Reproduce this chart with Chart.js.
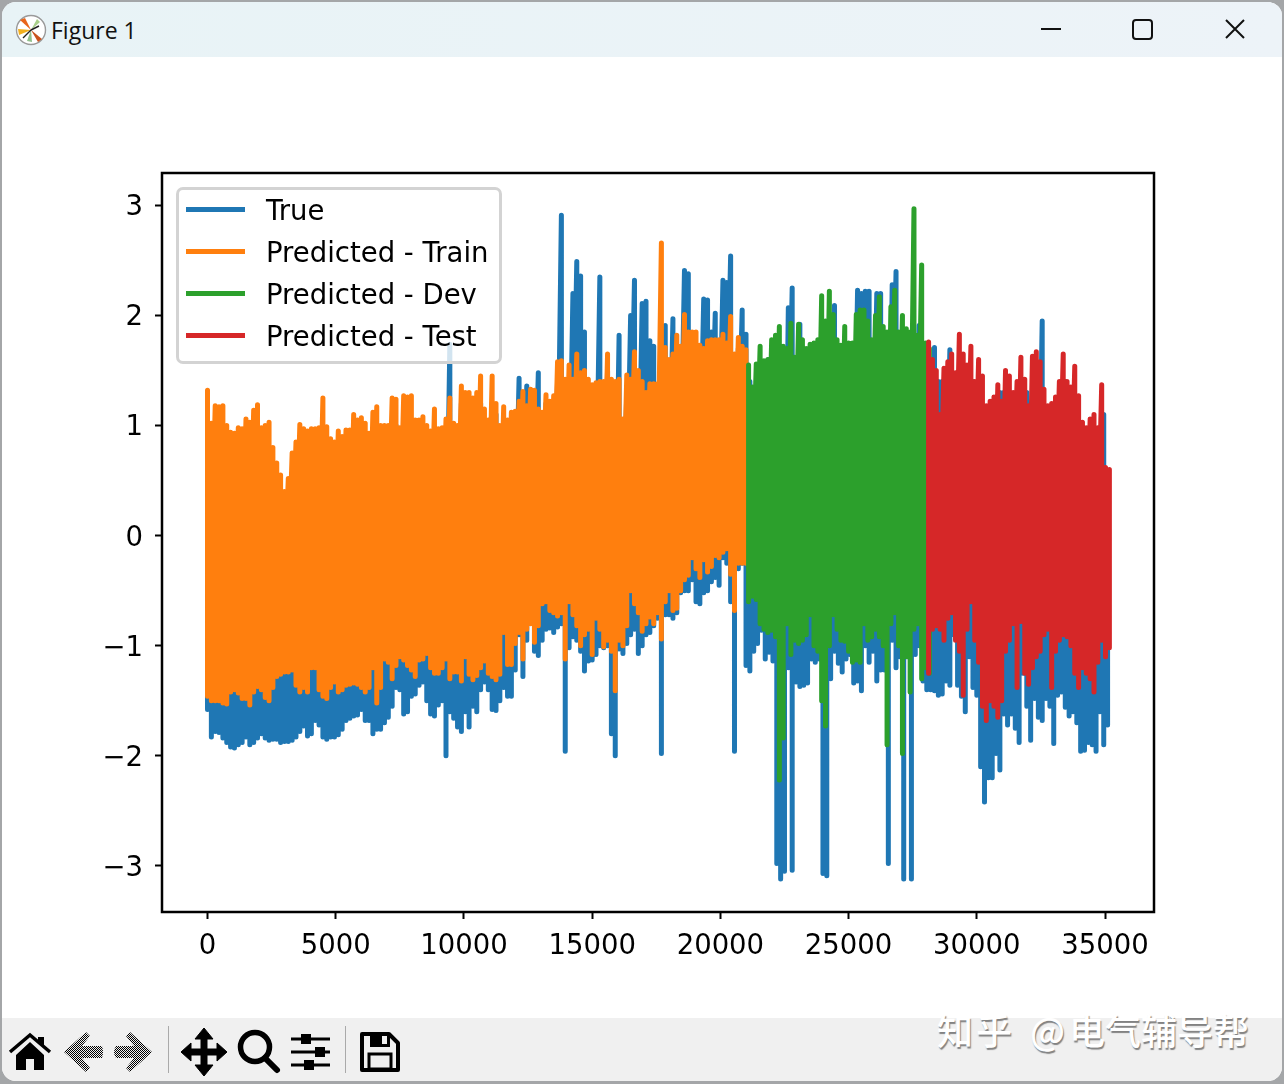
<!DOCTYPE html>
<html>
<head>
<meta charset="utf-8">
<title>Figure 1</title>
<script src="https://cdn.jsdelivr.net/npm/chart.js@4/dist/chart.umd.min.js"></script>
<style>
  html, body { margin: 0; padding: 0; width: 1284px; height: 1084px; overflow: hidden; background: #a4a6a8; }
  #win { position: absolute; left: 2px; top: 2px; width: 1280px; height: 1079px; background: #fff; border-radius: 14px; overflow: hidden; }
  #titlebar { position: absolute; left: 0; top: 0; width: 1280px; height: 55px; background: linear-gradient(90deg, #e8f3f6, #edf3f8); }
  #titletext { position: absolute; left: 49px; top: 12px; font: 23px "Open Sans", "Noto Sans", sans-serif; color: #111; }
  #toolbar { position: absolute; left: 0; top: 1016px; width: 1280px; height: 63px; background: #f0f0f0; }
  #plot { position: absolute; left: 0; top: 58px; width: 1284px; height: 960px; }
  #legend { position: absolute; left: 176px; top: 187px; width: 320px; height: 171px; padding: 0; background: rgba(255,255,255,0.8); border: 3px solid #d3d3d3; border-radius: 7px; font: 27.5px "DejaVu Sans", sans-serif; color: #000; }
  #legend .row { position: absolute; left: 0; height: 42px; width: 100%; }
  #legend .swatch { position: absolute; left: 7px; top: 17px; width: 59px; height: 5px; }
  #legend .name { position: absolute; left: 87px; top: 3px; white-space: nowrap; line-height: 34px; }
  .mark { position: absolute; top: 1001px; font: 500 36px "Noto Sans CJK SC", sans-serif; color: #fff; white-space: pre; text-shadow: 1px 2px 1px rgba(70,70,70,0.65); }
  svg { position: absolute; }
</style>
</head>
<body>
<div id="win">
  <div id="titlebar">
    <svg style="left:13px;top:12px" width="32" height="32" viewBox="0 0 32 32">
      <circle cx="16" cy="16" r="14.5" fill="#fff" stroke="#9a9a9a" stroke-width="1.4"/>
      <path d="M16 16 L5 6 L10 4 Z" fill="#e8641b"/>
      <path d="M16 16 L3 15 L4 21 Z" fill="#f2b01e"/>
      <path d="M16 16 L27 25 L23 28 Z" fill="#c9521c"/>
      <path d="M16 16 L22 5 L25 8 Z" fill="#a9cf8a"/>
      <path d="M16 16 L12 27 L17 28 Z" fill="#8fc08a"/>
      <path d="M16 16 L8 24 M16 16 L24 12" stroke="#222" stroke-width="1.4"/>
    </svg>
    <div id="titletext">Figure 1</div>
    <svg style="left:1030px;top:10px" width="240" height="36" viewBox="0 0 240 36" fill="none" stroke="#111" stroke-width="2">
      <path d="M9 17 H29"/>
      <rect x="101" y="8" width="19" height="19" rx="3"/>
      <path d="M194 8 L212 26 M212 8 L194 26"/>
    </svg>
  </div>
  <div id="toolbar">
    <svg style="left:0;top:0" width="420" height="63" viewBox="0 0 420 63">
      <defs>
        <pattern id="dither" width="2" height="2" patternUnits="userSpaceOnUse">
          <rect width="1" height="1" fill="#000"/><rect x="1" y="1" width="1" height="1" fill="#000"/>
        </pattern>
      </defs>
      <!-- home -->
      <path d="M8 34 L28 17 L48 34" fill="none" stroke="#000" stroke-width="3.5"/>
      <path d="M36 19 h6 v9 l-6 -5 z" fill="#000"/>
      <path d="M14 37 L28 24 L42 37 V52 H32 V41 H24 V52 H14 Z" fill="#000"/>
      <!-- back / forward, disabled -->
      <path d="M62 34 L84 14 L88 18 L80 28 H100 Q102 34 100 40 H80 L88 50 L84 54 Z" fill="url(#dither)"/>
      <path d="M150 34 L128 14 L124 18 L132 28 H114 Q110 34 114 40 H132 L124 50 L128 54 Z" fill="url(#dither)"/>
      <rect x="166" y="8" width="1" height="47" fill="#aaa"/>
      <!-- pan -->
      <path d="M202 10 L211 21 H205 V31 H215 V25 L225 34 L215 43 V37 H205 V47 H211 L202 58 L193 47 H199 V37 H189 V43 L179 34 L189 25 V31 H199 V21 H193 Z" fill="#000" stroke="#000" stroke-width="1" stroke-linejoin="round"/>
      <!-- zoom -->
      <circle cx="253" cy="29" r="14.5" fill="none" stroke="#000" stroke-width="5.5"/>
      <path d="M263 40 L275 52" stroke="#000" stroke-width="6" stroke-linecap="round"/>
      <!-- subplots -->
      <path d="M289 21 H328 M289 34 H328 M289 47 H328" stroke="#000" stroke-width="3"/>
      <rect x="299" y="16" width="10" height="10" fill="#000"/>
      <rect x="313" y="29" width="10" height="10" fill="#000"/>
      <rect x="302" y="42" width="10" height="10" fill="#000"/>
      <rect x="343" y="8" width="1" height="47" fill="#aaa"/>
      <!-- save -->
      <path d="M360 16 H387 L396 25 V52 H360 Z" fill="none" stroke="#000" stroke-width="4" stroke-linejoin="round"/>
      <rect x="368" y="16" width="20" height="13" fill="#000"/>
      <rect x="380" y="18" width="5" height="8" fill="#f0f0f0"/>
      <rect x="367" y="36" width="22" height="15" fill="none" stroke="#000" stroke-width="3"/>
    </svg>
  </div>
  <div class="mark" style="left:935px;letter-spacing:3px">知乎</div>
  <div class="mark" style="left:1028px">@</div>
  <div class="mark" style="left:1067px">电气辅导帮</div>
</div>
<div id="plot"><canvas id="figure" width="1284" height="960"></canvas></div>
<div id="legend"></div>

<script>
const seriesNames = ['True', 'Predicted - Train', 'Predicted - Dev', 'Predicted - Test'];
const seriesColors = ['#1f77b4', '#ff7f0e', '#2ca02c', '#d62728'];
const xTicks = [0, 5000, 10000, 15000, 20000, 25000, 30000, 35000];
const yTicks = [-3, -2, -1, 0, 1, 2, 3];

// each signal is far too dense to plot sample by sample, so it is kept as
// high/low pairs per bin of 150 samples
const binSize = 150;
const trueStart = 0;
const trainStart = 0;
const devStart = 21100;
const testStart = 28120;

const trueHigh = [
  .52,.6,.7,.7,.8,.8,.7,.7,.8,.8,
  .8,.8,.9,.9,.8,.8,.7,.6,.5,.4,
  .3,.4,.5,.7,.8,.8,.8,.8,.8,.8,
  .9,.8,.8,.8,.8,.8,.8,.8,.9,.9,
  .9,.8,.8,.9,.9,.9,.9,.9,1.0,1.0,
  .9,1.0,1.0,1.0,.9,.9,.9,.9,.9,.9,
  .9,.9,.9,1.74,.9,.9,1.2,1.1,1.1,1.1,
  1.1,1.2,1.0,1.0,1.2,1.1,.9,1.0,1.0,1.0,
  1.1,1.43,1.2,1.36,1.30,1.30,1.48,1.0,1.2,1.1,
  1.2,1.4,2.91,1.3,1.4,2.20,2.49,2.36,1.85,1.3,
  1.3,1.3,2.35,1.3,1.5,1.3,1.3,1.82,1.0,1.3,
  2.0,2.32,1.4,2.11,2.13,1.77,1.72,1.3,1.5,1.91,
  1.5,1.97,1.6,1.6,2.41,2.38,1.7,1.7,1.6,2.15,
  2.14,1.85,2.02,1.7,2.32,2.30,2.54,1.6,1.7,2.05,
  1.83,1.4,1.3,1.5,1.5,1.5,1.6,1.7,1.7,1.6,
  1.6,2.07,2.25,1.6,1.92,1.6,1.6,1.6,1.6,1.7,
  1.9,1.9,1.8,2.09,1.6,1.6,1.6,1.6,1.7,2.23,
  2.20,2.22,2.22,1.7,2.20,2.20,1.7,1.8,2.28,2.40,
  1.7,1.7,1.7,1.7,1.7,1.91,1.7,1.4,1.4,1.71,
  1.4,1.4,1.4,1.69,1.4,1.4,1.4,1.5,1.3,1.4,
  1.3,1.2,1.1,1.1,1.1,1.2,1.3,1.3,1.3,1.2,
  1.2,1.3,1.4,1.3,1.1,1.4,1.4,1.95,1.1,1.1,
  1.1,1.1,1.2,1.4,1.2,1.3,1.1,1.0,.9,.9,
  .9,.9,.9,1.1,.5
];
const trueLow = [
  -1.58,-1.83,-1.78,-1.79,-1.84,-1.88,-1.92,-1.93,-1.90,-1.88,
  -1.83,-1.90,-1.88,-1.84,-1.80,-1.84,-1.86,-1.85,-1.85,-1.88,
  -1.87,-1.87,-1.86,-1.83,-1.78,-1.73,-1.82,-1.80,-1.68,-1.72,
  -1.83,-1.85,-1.83,-1.83,-1.81,-1.76,-1.68,-1.66,-1.64,-1.63,
  -1.58,-1.68,-1.68,-1.80,-1.76,-1.76,-1.70,-1.65,-1.55,-1.38,
  -1.40,-1.62,-1.60,-1.46,-1.44,-1.36,-1.33,-1.50,-1.62,-1.64,
  -1.54,-1.50,-2.00,-1.60,-1.66,-1.74,-1.78,-1.60,-1.74,-1.55,
  -1.60,-1.40,-1.33,-1.40,-1.58,-1.59,-1.50,-1.38,-1.46,-1.46,
  -1.22,-.90,-1.28,-.95,-.78,-1.05,-1.09,-.95,-.85,-.84,
  -.88,-.83,-.80,-1.96,-1.02,-.92,-.95,-1.05,-1.23,-1.14,
  -1.13,-1.08,-1.00,-1.02,-1.0,-1.80,-2.0,-1.03,-1.07,-.98,
  -.90,-.85,-1.07,-1.0,-.90,-.88,-.82,-.75,-1.98,-.72,
  -.72,-.75,-.70,-.52,-.50,-.50,-.40,-.60,-.62,-.52,
  -.50,-.42,-.38,-.45,-.20,-.25,-.60,-1.96,-.30,-.25,
  -1.18,-1.23,-1.05,-.98,-.86,-1.12,-1.06,-1.14,-2.98,-3.12,
  -3.05,-1.20,-3.04,-1.33,-1.37,-1.36,-1.34,-1.12,-1.15,-1.12,
  -3.07,-3.09,-1.30,-1.05,-1.16,-1.24,-1.12,-1.08,-1.34,-1.32,
  -1.41,-1.0,-1.15,-1.05,-1.32,-1.22,-1.22,-2.98,-.95,-1.20,
  -1.10,-3.12,-1.10,-3.12,-1.08,-1.0,-1.32,-1.40,-1.40,-1.41,
  -1.45,-1.44,-1.32,-1.36,-.90,-1.36,-1.46,-1.60,-1.10,-1.38,
  -1.45,-2.1,-2.42,-2.20,-2.2,-1.98,-2.13,-1.62,-1.72,-1.62,
  -1.75,-1.88,-1.25,-1.55,-1.86,-1.48,-1.65,-1.68,-1.48,-1.55,
  -1.89,-1.45,-1.42,-1.56,-1.64,-1.60,-1.70,-1.96,-1.95,-1.88,
  -1.90,-1.96,-1.60,-1.90,-1.72
];

const trainHigh = [
  1.32,1.02,1.18,1.17,1.18,1.00,.94,.93,.98,.97,
  1.06,1.03,1.14,1.19,.98,1.0,1.03,.80,.66,.55,
  .40,.52,.75,.85,1.01,.97,.95,.97,.97,.98,
  1.25,.99,.88,.85,.95,.90,.96,.96,1.10,1.05,
  1.07,1.02,.93,1.12,1.17,1.00,1.00,1.0,1.25,1.24,
  .98,1.27,1.26,1.27,1.05,1.05,1.08,1.0,.95,1.15,
  .97,.98,1.06,1.25,1.02,1.0,1.36,1.30,1.30,1.25,
  1.30,1.45,1.15,1.05,1.45,1.2,1.0,1.17,1.05,1.12,
  1.13,1.22,1.31,1.18,1.33,1.32,1.15,1.12,1.28,1.22,
  1.27,1.58,1.59,1.42,1.55,1.42,1.65,1.48,1.50,1.42,
  1.37,1.39,1.40,1.40,1.65,1.42,1.40,1.42,1.06,1.46,
  1.42,1.67,1.50,1.40,1.30,1.38,1.38,1.38,2.66,1.71,
  1.60,1.65,1.82,1.72,2.01,1.85,1.85,1.85,1.73,1.70,
  1.77,1.78,1.78,1.78,1.83,1.75,1.99,1.65,1.80,1.72,1.69
];
const trainLow = [
  -1.46,-1.50,-1.50,-1.50,-1.52,-1.53,-1.42,-1.40,-1.43,-1.48,
  -1.48,-1.54,-1.42,-1.37,-1.40,-1.47,-1.50,-1.38,-1.28,-1.26,
  -1.24,-1.24,-1.22,-1.36,-1.42,-1.38,-1.42,-1.20,-1.20,-1.40,
  -1.46,-1.48,-1.38,-1.33,-1.42,-1.40,-1.36,-1.35,-1.34,-1.35,
  -1.38,-1.42,-1.38,-1.20,-1.52,-1.38,-1.12,-1.15,-1.30,-1.18,
  -1.10,-1.13,-1.18,-1.22,-1.28,-1.13,-1.12,-1.07,-1.20,-1.25,
  -1.25,-1.20,-1.12,-1.30,-1.24,-1.24,-1.32,-1.10,-1.26,-1.31,
  -1.27,-1.20,-1.14,-1.25,-1.28,-1.31,-1.26,-.88,-1.17,-1.17,
  -.98,-.88,-1.12,-.85,-.80,-.97,-.82,-.62,-.60,-.68,
  -.70,-.73,-.70,-1.12,-.60,-.72,-.82,-1.00,-.90,-.85,
  -1.08,-.75,-.85,-1.01,-.95,-1.05,-1.41,-.95,-1.0,-.82,
  -.50,-.62,-.70,-.87,-.80,-.74,-.80,-.70,-.94,-.60,
  -.50,-.68,-.66,-.50,-.40,-.36,-.20,-.30,-.38,-.22,
  -.33,-.28,-.18,-.20,-.15,-.12,-.35,-.68,-.25,-.25,-.25
];

const devHigh = [
  1.55,1.35,1.56,1.72,1.59,1.60,1.78,1.82,1.90,1.72,
  1.70,1.93,1.62,1.92,1.78,1.70,1.74,1.75,1.78,2.18,
  1.95,2.22,2.01,1.78,1.73,1.90,1.75,1.75,2.01,2.05,
  2.05,1.95,1.78,2.0,2.17,1.90,1.85,2.08,2.23,1.85,
  2.0,1.88,1.85,2.97,1.82,2.46,1.75,1.7
];
const devLow = [
  -.60,-.55,-.58,-.80,-.85,-.88,-.86,-.92,-2.22,-1.84,
  -.80,-1.08,-.95,-.98,-.95,-.90,-.72,-1.0,-1.05,-1.50,
  -1.73,-1.0,-.72,-.85,-.95,-.96,-1.05,-1.15,-1.13,-1.15,
  -.80,-.95,-.92,-.85,-.92,-1.0,-1.90,-.80,-.70,-1.0,
  -1.98,-1.10,-1.42,-.85,-.80,-1.30,-1.20,-1.25
];

const testHigh = [
  1.76,1.60,1.50,1.10,1.52,1.58,1.65,1.48,1.83,1.65,
  1.55,1.72,1.40,1.60,1.45,1.18,1.22,1.26,1.37,1.22,
  1.50,1.45,1.30,1.40,1.62,1.42,1.18,1.63,1.67,1.58,
  1.33,1.18,1.20,1.26,1.40,1.65,1.40,1.35,1.54,1.27,
  1.03,.98,1.06,1.10,.98,1.37,.62,.60
];
const testLow = [
  -1.25,-.85,-.82,-.85,-.95,-.75,-.70,-.95,-1.05,-1.45,
  -.85,-.60,-.95,-1.15,-1.55,-1.68,-1.50,-1.55,-1.65,-1.50,
  -1.05,-.95,-.80,-1.38,-.78,-1.25,-1.35,-1.20,-1.10,-1.05,
  -.90,-.85,-1.38,-1.05,-.95,-.90,-.92,-1.0,-1.25,-1.38,
  -1.20,-1.25,-1.30,-1.42,-1.15,-.95,-1.10,-1.02
];

// every bin is a straight up-and-down stroke; the line moves on to the next
// bin from the middle of the range, where the join stays out of sight
function sweep(start, high, low) {
  const pts = [];
  high.forEach((h, i) => {
    const x = start + i * binSize;
    pts.push({ x: x, y: h }, { x: x, y: low[i] }, { x: x, y: (h + low[i]) / 2 });
  });
  return pts;
}

function lineSet(idx, pts) {
  return {
    label: seriesNames[idx],
    data: pts,
    borderColor: seriesColors[idx],
    backgroundColor: seriesColors[idx],
    borderWidth: 5,
    borderJoinStyle: 'round',
    borderCapStyle: 'round',
    pointRadius: 0,
    tension: 0,
    fill: false
  };
}

// Chart.js paints the first dataset last, so the newest split goes first
const datasets = [
  lineSet(3, sweep(testStart, testHigh, testLow)),
  lineSet(2, sweep(devStart, devHigh, devLow)),
  lineSet(1, sweep(trainStart, trainHigh, trainLow)),
  lineSet(0, sweep(trueStart, trueHigh, trueLow))
];

const frame = {
  id: 'frame',
  afterDatasetsDraw(chart) {
    const a = chart.chartArea;
    const ctx = chart.ctx;
    ctx.save();
    ctx.strokeStyle = '#000';
    ctx.lineWidth = 2.5;
    ctx.strokeRect(a.left, a.top, a.right - a.left, a.bottom - a.top);
    ctx.restore();
  }
};

new Chart(document.getElementById('figure').getContext('2d'), {
  type: 'line',
  data: { datasets: datasets },
  plugins: [frame],
  options: {
    responsive: false,
    animation: false,
    layout: { padding: { left: 0, top: 115, right: 130, bottom: 0 } },
    plugins: { legend: { display: false }, tooltip: { enabled: false } },
    scales: {
      x: {
        type: 'linear',
        min: -1775,
        max: 36910,
        afterBuildTicks: s => { s.ticks = xTicks.map(v => ({ value: v })); },
        afterFit: s => { s.height = 106; },
        grid: { drawOnChartArea: false, tickLength: 7, tickColor: '#000', tickWidth: 2 },
        border: { color: '#000', width: 2 },
        ticks: { color: '#000', font: { family: 'DejaVu Sans', size: 27.5 }, maxRotation: 0, autoSkip: false, padding: 11, callback: v => String(v) }
      },
      y: {
        type: 'linear',
        min: -3.42,
        max: 3.295,
        afterBuildTicks: s => { s.ticks = yTicks.map(v => ({ value: v })); },
        afterFit: s => { s.width = 162; },
        grid: { drawOnChartArea: false, tickLength: 7, tickColor: '#000', tickWidth: 2 },
        border: { color: '#000', width: 2 },
        // empty first line plus a tight lineHeight nudges the digits down onto the tick
        ticks: { color: '#000', font: { family: 'DejaVu Sans', size: 27.5, lineHeight: 0.2 }, autoSkip: false, padding: 12, callback: v => ['', String(v).replace('-', '\u2212')] }
      }
    }
  }
});

// legend box sits over the plot, top left
const legendBox = document.getElementById('legend');
seriesNames.forEach((name, i) => {
  const row = document.createElement('div');
  row.className = 'row';
  row.style.top = (i * 42) + 'px';
  row.innerHTML = '<div class="swatch" style="background:' + seriesColors[i] + '"></div><div class="name">' + name + '</div>';
  legendBox.appendChild(row);
});
</script>
</body>
</html>
